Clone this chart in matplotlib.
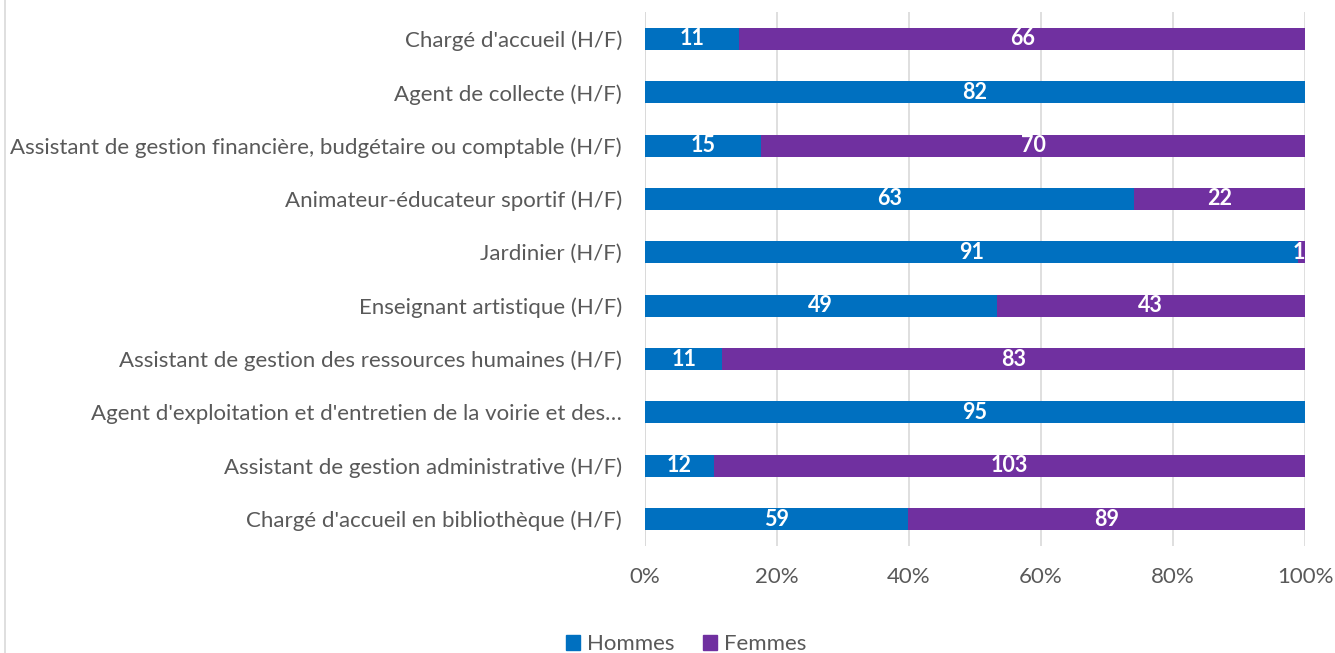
import matplotlib
matplotlib.use("Agg")
import matplotlib.pyplot as plt
from matplotlib.lines import Line2D
from matplotlib.patches import Patch

categories = [
    "Chargé d'accueil (H/F)",
    "Agent de collecte (H/F)",
    "Assistant de gestion financière, budgétaire ou comptable (H/F)",
    "Animateur-éducateur sportif (H/F)",
    "Jardinier (H/F)",
    "Enseignant artistique (H/F)",
    "Assistant de gestion des ressources humaines (H/F)",
    "Agent d'exploitation et d'entretien de la voirie et des…",
    "Assistant de gestion administrative (H/F)",
    "Chargé d'accueil en bibliothèque (H/F)",
]
hommes = [11, 82, 15, 63, 91, 49, 11, 95, 12, 59]
femmes = [66, 0, 70, 22, 1, 43, 83, 0, 103, 89]
ticks = [0, 20, 40, 60, 80, 100]
tick_labels = ["0%", "20%", "40%", "60%", "80%", "100%"]

plt.rcParams['font.family'] = ['Lato', 'DejaVu Sans']
c_h = "#0070C0"
c_f = "#7030A0"
txt = "#595959"

fig = plt.figure(figsize=(13.35, 6.53), dpi=100)
ax = fig.add_axes([645/1335, 1-545.7/653, 660/1335, (545.7-12.3)/653])

n = len(categories)
ypos = list(range(n))
tot = [h + f for h, f in zip(hommes, femmes)]
hp = [h / t * 100 for h, t in zip(hommes, tot)]
fp = [f / t * 100 for f, t in zip(femmes, tot)]

ax.barh(ypos, hp, height=0.41, color=c_h, zorder=3)
ax.barh(ypos, fp, left=hp, height=0.41, color=c_f, zorder=3)

for i in range(n):
    if hommes[i] > 0:
        x = hp[i] / 2
        ax.text(x, i, str(hommes[i]), ha='center', va='center', color='white',
                fontsize=15.5, fontweight='bold', zorder=4)
    if femmes[i] > 0:
        x = hp[i] + fp[i] / 2
        if fp[i] < 3:
            x = 99.0
        ax.text(x, i, str(femmes[i]), ha='center', va='center', color='white',
                fontsize=15.5, fontweight='bold', zorder=4)

ax.set_xlim(0, 100)
ax.set_ylim(n - 0.5, -0.5)
ax.set_yticks(ypos)
ax.set_yticklabels(categories, fontsize=16, color=txt)
ax.set_xticks(ticks)
ax.set_xticklabels(tick_labels, fontsize=16, color=txt)
ax.tick_params(axis='both', length=0)
ax.tick_params(axis='y', pad=16.5)
ax.tick_params(axis='x', pad=15)
ax.grid(axis='x', color='#d9d9d9', linewidth=1.2, zorder=0)
for s in ax.spines.values():
    s.set_visible(False)
ax.axvline(0, color='#d9d9d9', linewidth=1.2, zorder=1)

fig.add_artist(Line2D([5/1335, 5/1335], [0, 1], transform=fig.transFigure,
                      color='#d9d9d9', linewidth=1.2))

handles = [Patch(color=c_h, label='Hommes'), Patch(color=c_f, label='Femmes')]
fig.legend(handles=handles, loc='center', bbox_to_anchor=(686/1335, 9/653),
           ncol=2, frameon=False, fontsize=16, labelcolor=txt,
           handlelength=0.65, handleheight=0.65, handletextpad=0.3, columnspacing=1.3)

fig.savefig("out.png", dpi=100, facecolor='white')
